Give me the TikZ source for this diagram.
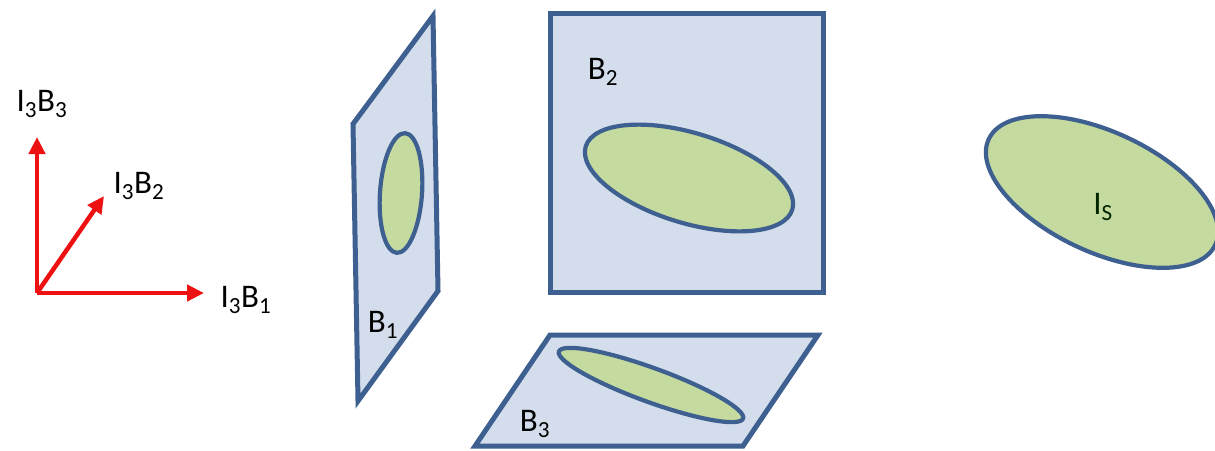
\documentclass[tikz,border=0pt]{standalone}
\usepackage{fontspec}
\setmainfont{Carlito}
\usetikzlibrary{arrows.meta}
\definecolor{planefill}{HTML}{D3DDEC}
\definecolor{planeline}{HTML}{3E6090}
\definecolor{ellfill}{HTML}{C5DA9E}
\definecolor{arrred}{HTML}{EE1111}
\tikzset{
  plane/.style={draw=planeline, fill=planefill, line width=5pt, line join=miter},
  blob/.style={draw=planeline, fill=ellfill, line width=4.2pt},
  axis/.style={draw=arrred, line width=4.5pt, -{Triangle[length=17pt,width=16pt]}},
  lbl/.style={font=\fontsize{33}{40}\selectfont, inner sep=0pt, text=black},
}
\newcommand{\sub}[1]{\textsubscript{#1}}
\begin{document}
\begin{tikzpicture}[x=1pt,y=-1pt]
\useasboundingbox (0,0) rectangle (1215,450);
\clip (0,0) rectangle (1215,450);
% axes
\coordinate (o) at (37,293);
\coordinate (e3) at (37,137);
\coordinate (e2) at (104,196);
\coordinate (e1) at (204,293);
\draw[axis] (o) -- (e3);
\draw[axis] (o) -- (e2);
\draw[axis] (o) -- (e1);
\node[lbl] (l3) at (42,104) {I\sub{3}B\sub{3}};
\node[lbl] (l2) at (139,186) {I\sub{3}B\sub{2}};
\node[lbl] (l1) at (246,300) {I\sub{3}B\sub{1}};
% plane B1
\draw[plane] (433,16) -- (353,124) -- (358,401) -- (438,291) -- cycle;
\draw[blob, rotate around={-4:(401,193)}] (401,193) ellipse [x radius=21, y radius=60];
\node[lbl] (b1) at (383,325) {B\sub{1}};
% plane B2
\draw[plane] (550,13) rectangle (823,292);
\draw[blob, rotate around={-17:(689,178)}] (689,178) ellipse [x radius=108, y radius=45];
\node[lbl] (b2) at (603,72) {B\sub{2}};
% plane B3
\draw[plane] (550,335) -- (818,335) -- (743,446) -- (475,446) -- cycle;
\draw[blob, rotate around={-20:(651,385)}] (651,385) ellipse [x radius=98, y radius=17];
\node[lbl] (b3) at (535,424) {B\sub{3}};
% Is
\draw[blob, rotate around={-25:(1102,192)}] (1102,192) ellipse [x radius=125, y radius=60];
\node[lbl, text={black!75!green!60!black}] (is) at (1103,207) {I\sub{S}};
\end{tikzpicture}
\end{document}
